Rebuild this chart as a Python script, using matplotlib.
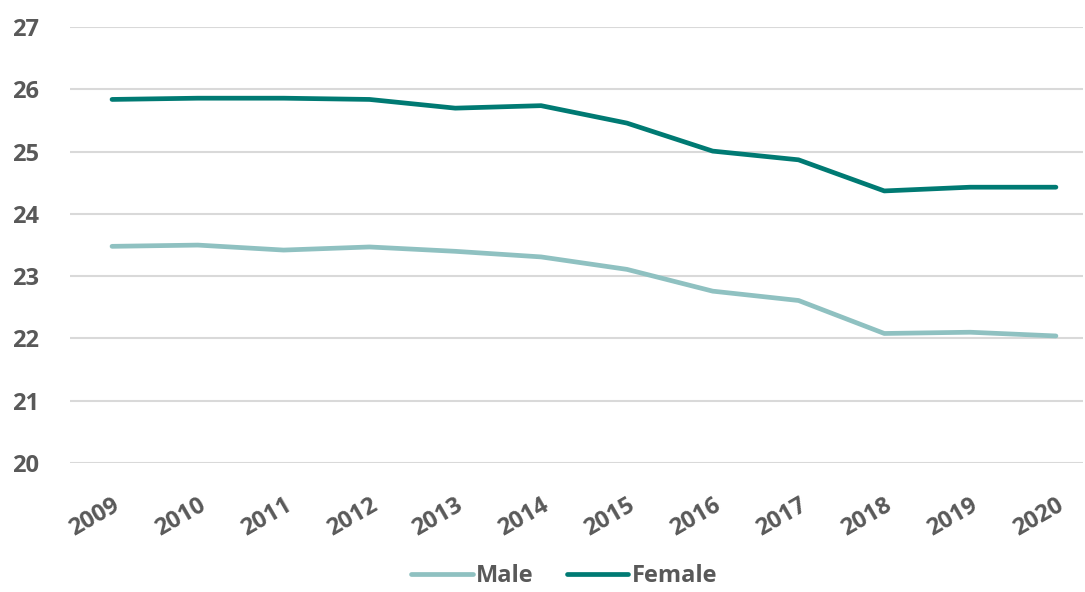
import numpy as np
import matplotlib.pyplot as plt

years = ['2009', '2010', '2011', '2012', '2013', '2014',
         '2015', '2016', '2017', '2018', '2019', '2020']
male = [23.48, 23.50, 23.42, 23.47, 23.40, 23.31,
        23.11, 22.76, 22.61, 22.08, 22.10, 22.04]
female = [25.84, 25.86, 25.86, 25.84, 25.70, 25.74,
          25.46, 25.01, 24.87, 24.37, 24.43, 24.43]

plt.rcParams['font.family'] = ['Open Sans', 'DejaVu Sans']
text_col = '#595959'

fig = plt.figure(figsize=(10.85, 5.92), dpi=100)
ax = fig.add_axes([0.0645, 0.218, 0.934, 0.736])

x = np.arange(len(years))
ax.plot(x, male, color='#8fc1c1', lw=3.4, label='Male', solid_capstyle='round')
ax.plot(x, female, color='#007a73', lw=3.4, label='Female', solid_capstyle='round')

ax.set_ylim(20, 27)
ax.set_yticks(range(20, 28))
ax.set_xlim(-0.49, 11.32)
ax.set_xticks(x)
ax.set_xticklabels(years, rotation=30, ha='right', va='top', rotation_mode='anchor')
ax.grid(axis='y', color='#d9d9d9', lw=1.5)
ax.set_axisbelow(True)
for s in ax.spines.values():
    s.set_visible(False)
ax.tick_params(length=0, labelsize=17, labelcolor=text_col)
ax.tick_params(axis='y', pad=42)
ax.tick_params(axis='x', pad=22)
for lab in ax.get_xticklabels() + ax.get_yticklabels():
    lab.set_fontweight('bold')
for lab in ax.get_yticklabels():
    lab.set_horizontalalignment('left')

leg = fig.legend(loc='lower center', bbox_to_anchor=(0.52, -0.018), ncol=2, frameon=False,
                 prop={'size': 17, 'weight': 'bold'}, handlelength=2.6,
                 handletextpad=0.15, columnspacing=1.4, borderpad=0.1)
for t in leg.get_texts():
    t.set_color(text_col)

fig.savefig('out.png', dpi=100)
